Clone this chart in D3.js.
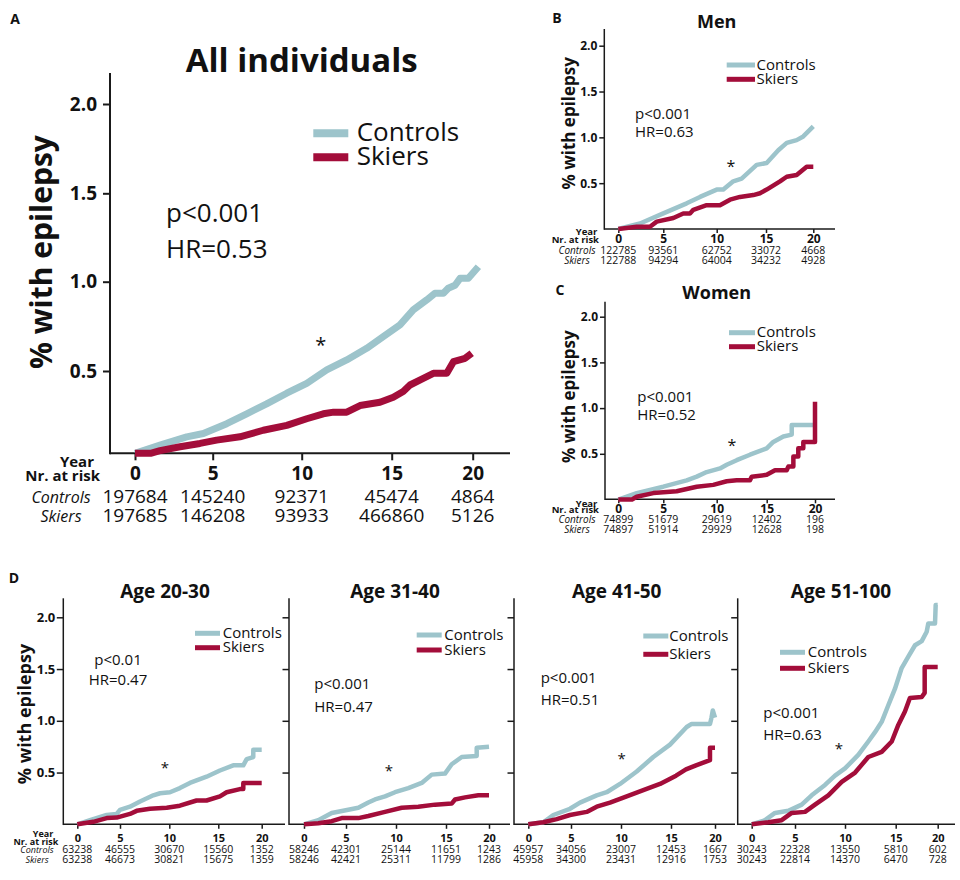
<!DOCTYPE html>
<html><head><meta charset="utf-8">
<script src="https://cdn.jsdelivr.net/npm/d3@7"></script>
<style>body{margin:0;background:#fff}svg{display:block}</style>
</head><body><svg id="c" width="960" height="880"></svg>
<script>
// ---------------- DATA ----------------
const years = [0, 5, 10, 15, 20];
const yTicks = [0.5, 1.0, 1.5, 2.0];
const seriesNames = ["Controls", "Skiers"];

// A: All individuals  [year, % with epilepsy]
const allControls = [[0,0],[1.61,0.05],[3.33,0.10],[4.4,0.12],[5.79,0.18],[6.91,0.24],[8.03,0.30],[9.16,0.365],[10.28,0.425],[11.39,0.506],[12.5,0.562],[13.61,0.627],[14.53,0.692],[15.51,0.758],[16.33,0.842],[17.16,0.898],[17.67,0.935],[18.19,0.935],[18.49,0.963],[18.91,0.98],[19.22,1.019],[19.73,1.019],[20.35,1.085]];
const allSkiers = [[0,0],[1.0,0],[1.61,0.016],[2.9,0.04],[4.18,0.06],[5.22,0.08],[6.53,0.10],[7.84,0.14],[9.16,0.17],[10.28,0.21],[11.2,0.24],[11.77,0.25],[12.5,0.25],[13.24,0.29],[14.35,0.31],[15.1,0.34],[15.71,0.375],[16.13,0.415],[16.95,0.455],[17.57,0.486],[18.4,0.486],[18.81,0.552],[19.53,0.571],[19.94,0.6]];
const allRiskControls = [197684, 145240, 92371, 45474, 4864];
const allRiskSkiers = [197685, 146208, 93933, 466860, 5126];

// B: Men
const menControls = [[0,0],[2.41,0.06],[5,0.17],[7.19,0.28],[8.44,0.35],[10,0.43],[10.67,0.43],[11.68,0.52],[12.53,0.55],[14.05,0.70],[15.07,0.72],[16.3,0.86],[17.19,0.94],[18.24,0.97],[18.94,1.01],[20,1.12]];
const menSkiers = [[0,0],[2.04,0.025],[3.52,0.025],[4.27,0.08],[5.94,0.12],[6.87,0.17],[7.5,0.17],[7.81,0.21],[9.06,0.26],[10.33,0.26],[11.35,0.32],[12.36,0.35],[13.71,0.37],[14.39,0.39],[15.07,0.43],[16.48,0.52],[17.19,0.57],[18.24,0.59],[19.3,0.68],[20,0.68]];
const menRiskControls = [122785, 93561, 62752, 33072, 4668];
const menRiskSkiers = [122788, 94294, 64004, 34232, 4928];

// C: Women
const womenControls = [[0,0],[2.04,0.07],[5,0.14],[7.19,0.21],[8.13,0.25],[9.06,0.30],[10.33,0.34],[11,0.38],[12,0.43],[13.33,0.49],[15,0.56],[15.68,0.63],[16.72,0.69],[17.59,0.71],[17.59,0.815],[19.83,0.815]];
const womenSkiers = [[0,0],[1.52,0],[2.04,0.03],[3.89,0.07],[6.25,0.09],[8.13,0.14],[9.68,0.16],[11.0,0.20],[12.0,0.21],[13.33,0.21],[13.5,0.25],[15,0.27],[15.86,0.32],[17.07,0.32],[17.24,0.36],[17.76,0.36],[17.76,0.47],[18.27,0.47],[18.27,0.56],[18.79,0.56],[18.79,0.63],[20,0.63],[20,1.07]];
const womenRiskControls = [74899, 51679, 29619, 12402, 196];
const womenRiskSkiers = [74897, 51914, 29929, 12628, 198];

// D: Age groups
const age1Controls = [[0,0],[1.49,0.04],[3.44,0.09],[4.61,0.10],[5,0.14],[6.01,0.17],[7.03,0.22],[8.38,0.28],[9.06,0.30],[10.07,0.31],[11.08,0.35],[12.1,0.40],[13.8,0.46],[15.19,0.52],[16.72,0.57],[17.88,0.57],[18.27,0.63],[19.03,0.65],[19.03,0.72],[20,0.72]];
const age1Skiers = [[0,0],[1.87,0.024],[3.44,0.06],[4.61,0.065],[6.01,0.10],[6.69,0.13],[8.04,0.15],[9.74,0.16],[11.08,0.18],[12.78,0.23],[13.8,0.23],[15.19,0.27],[15.96,0.31],[17.49,0.34],[17.88,0.34],[17.88,0.40],[20,0.40]];
const age1RiskControls = [63238, 46555, 30670, 15560, 1352];
const age1RiskSkiers = [63238, 46673, 30821, 15675, 1359];

const age2Controls = [[0,0],[1.7,0.04],[3.3,0.11],[5.23,0.14],[6.23,0.16],[7.23,0.21],[7.9,0.24],[8.9,0.27],[9.9,0.31],[11.23,0.35],[12.57,0.40],[13.57,0.48],[14.9,0.49],[15.66,0.58],[16.83,0.65],[18.57,0.66],[18.57,0.74],[20,0.75]];
const age2Skiers = [[0,0],[1.7,0.01],[3.3,0.03],[4.49,0.06],[6.23,0.06],[7.23,0.08],[8.9,0.12],[10.57,0.16],[12.23,0.17],[13.9,0.19],[15.66,0.20],[16.05,0.24],[17.21,0.26],[18.76,0.28],[20,0.28]];
const age2RiskControls = [58246, 42301, 25144, 11651, 1243];
const age2RiskSkiers = [58246, 42421, 25311, 11799, 1286];

const age3Controls = [[0,0],[1.76,0.02],[2.93,0.09],[4.88,0.15],[5.9,0.21],[7.57,0.28],[8.57,0.31],[9.9,0.39],[11.57,0.51],[13.23,0.65],[14.9,0.77],[16.78,0.94],[17.35,0.97],[19.43,0.97],[19.6,1.03],[19.75,1.10],[20,1.03]];
const age3Skiers = [[0,0],[1.76,0.02],[3.33,0.05],[4.88,0.09],[6.57,0.12],[7.57,0.17],[8.9,0.21],[10.57,0.27],[12.23,0.33],[13.9,0.39],[15.57,0.47],[16.7,0.53],[17.84,0.57],[19.43,0.62],[19.43,0.74],[20,0.74]];
const age3RiskControls = [45957, 34056, 23007, 12453, 1667];
const age3RiskSkiers = [45958, 34300, 23431, 12916, 1753];

const age4Controls = [[0,0],[1.54,0.04],[2.69,0.11],[4.23,0.13],[5.67,0.19],[6.67,0.28],[8.0,0.38],[9.0,0.47],[10,0.54],[11.31,0.67],[12.3,0.80],[12.96,0.89],[13.62,0.99],[14.27,1.15],[14.93,1.31],[15.71,1.51],[16.5,1.62],[17.3,1.73],[18.1,1.77],[18.69,1.86],[18.88,1.94],[19.68,1.94],[19.76,2.12],[20,2.12]];
const age4Skiers = [[0,0],[1.92,0.02],[3.46,0.04],[4.62,0.11],[6.0,0.12],[7.0,0.19],[8.33,0.28],[9.67,0.41],[11.0,0.50],[12.3,0.65],[13.62,0.70],[14.61,0.80],[15.31,0.96],[16.1,1.09],[16.69,1.22],[18.1,1.23],[18.45,1.27],[18.45,1.52],[20,1.52]];
const age4RiskControls = [30243, 22328, 13550, 5810, 602];
const age4RiskSkiers = [30243, 22814, 14370, 6470, 728];

// ---------------- STYLE / LAYOUT ----------------
const FONT = "'Open Sans','Noto Sans',sans-serif";
const ctrlColor = "#9dc4cb", skiColor = "#a30d3a", axisColor = "#1a1a1a";

const panels = [
 {title:"All individuals", c:allControls, s:allSkiers, rc:allRiskControls, rs:allRiskSkiers, p:"p<0.001", hr:"HR=0.53",
  L:{axisX:110, axisY:453.3, top:73, xEnd:510, aw:2, xr:[135,212.7,301.7,391.7,472.7], yd:[0,0.5,1,1.5,2], yr:[453.3,371,281.7,193.3,104],
     yLabels:true, yTick:7, yPad:6, yFont:19, xTick:7, xLabY:480.5, xFont:19, lw:7,
     titleP:{x:301.7,y:72,size:33}, ylab:{x:52,y:252,size:30}, letter:{t:"A",x:15,y:24,size:14},
     leg:{x1:313.3,x2:348.3,y1:133.3,y2:157.3,tx:356.7,size:26,lw:8},
     stats:{x:166,y1:221.7,y2:258.3,size:26,anchor:"start"}, star:{x:320.7,y:340.7,size:20},
     rows:{labels:true, yearY:467, nrY:480.5, yearR:94, nrR:100, lblSize:15, cY:503, sY:522, lblX:61, itSize:16, numSize:19}}},
 {title:"Men", c:menControls, s:menSkiers, rc:menRiskControls, rs:menRiskSkiers, p:"p<0.001", hr:"HR=0.63",
  L:{axisX:604.3, axisY:229, top:29, xEnd:835, aw:1.5, xr:[618.3,663.3,716.7,766,813.3], yd:[0,2], yr:[229,45.7],
     yLabels:true, yTick:5, yPad:2, yFont:12, xTick:4, xLabY:242.7, xFont:12, lw:4.5,
     titleP:{x:716.7,y:28,size:18}, ylab:{x:575,y:123.3,size:17}, letter:{t:"B",x:557,y:23.3,size:14},
     leg:{x1:726.7,x2:755,y1:65,y2:79.3,tx:756.5,size:15,lw:5},
     stats:{x:635,y1:119.3,y2:137.3,size:15,anchor:"start"}, star:{x:731,y:163,size:16},
     rows:{labels:true, yearY:235, nrY:242.7, yearR:597.3, nrR:599, lblSize:9.5, cY:254, sY:263.5, lblX:577, itSize:10, numSize:10.5}}},
 {title:"Women", c:womenControls, s:womenSkiers, rc:womenRiskControls, rs:womenRiskSkiers, p:"p<0.001", hr:"HR=0.52",
  L:{axisX:605, axisY:499.3, top:301.7, xEnd:835, aw:1.5, xr:[618.3,663.3,716.7,766.7,815], yd:[0,2], yr:[499.5,316.7],
     yLabels:true, yTick:5, yPad:2, yFont:12, xTick:4, xLabY:513.3, xFont:12, lw:4.5,
     titleP:{x:716.7,y:299.3,size:18}, ylab:{x:575,y:396.7,size:17}, letter:{t:"C",x:560,y:295,size:14},
     leg:{x1:729,x2:755,y1:332.7,y2:346.7,tx:756.7,size:15,lw:5},
     stats:{x:637.3,y1:401.7,y2:420,size:15,anchor:"start"}, star:{x:732,y:441.7,size:16},
     rows:{labels:true, yearY:506.7, nrY:513.3, yearR:597.3, nrR:599, lblSize:9.5, cY:523.3, sY:533.3, lblX:577, itSize:10, numSize:10.5}}},
 {title:"Age 20-30", c:age1Controls, s:age1Skiers, rc:age1RiskControls, rs:age1RiskSkiers, p:"p<0.01", hr:"HR=0.47",
  L:{axisX:63.3, axisY:824.3, top:598.3, xEnd:285, aw:1.5, xr:[77.3,120,169.3,218.3,261.7], yd:[0,2], yr:[824.3,617.3],
     yLabels:true, yTick:6.5, yPad:1.5, yFont:13, xTick:4.5, xLabY:842.3, xFont:11, lw:4.5,
     titleP:{x:165,y:598,size:19}, ylab:{x:31,y:714,size:18}, letter:{t:"D",x:14,y:583.3,size:14},
     leg:{x1:195,x2:220,y1:633.3,y2:647.7,tx:222.7,size:15,lw:5},
     stats:{x:118,y1:665,y2:685,size:15,anchor:"middle"}, star:{x:165,y:764,size:15},
     rows:{labels:true, yearY:836.7, nrY:845, yearR:53.3, nrR:58.3, lblSize:9, cY:853.3, sY:863.3, lblX:37, itSize:9, numSize:10.5}}},
 {title:"Age 31-40", c:age2Controls, s:age2Skiers, rc:age2RiskControls, rs:age2RiskSkiers, p:"p<0.001", hr:"HR=0.47",
  L:{axisX:289, axisY:824.3, top:598.3, xEnd:510, aw:1.5, xr:[304,346,396,446,489], yd:[0,2], yr:[824.3,617.3],
     yLabels:false, yTick:6.5, yPad:1.5, yFont:13, xTick:4.5, xLabY:842.3, xFont:11, lw:4.5,
     titleP:{x:395,y:598,size:19}, ylab:null, letter:null,
     leg:{x1:416.7,x2:441.7,y1:635,y2:650,tx:444.3,size:15,lw:5},
     stats:{x:314.3,y1:689,y2:711.7,size:15,anchor:"start"}, star:{x:389,y:767.7,size:15},
     rows:{labels:false, cY:853.3, sY:863.3, numSize:10.5}}},
 {title:"Age 41-50", c:age3Controls, s:age3Skiers, rc:age3RiskControls, rs:age3RiskSkiers, p:"p<0.001", hr:"HR=0.51",
  L:{axisX:514, axisY:824.3, top:598.3, xEnd:735, aw:1.5, xr:[528.3,571,621,671,715], yd:[0,2], yr:[824.3,617.3],
     yLabels:false, yTick:6.5, yPad:1.5, yFont:13, xTick:4.5, xLabY:842.3, xFont:11, lw:4.5,
     titleP:{x:616.7,y:598,size:19}, ylab:null, letter:null,
     leg:{x1:643.3,x2:668.3,y1:636,y2:654.3,tx:669.3,size:15,lw:5},
     stats:{x:540.7,y1:683.3,y2:705,size:15,anchor:"start"}, star:{x:621.7,y:755,size:15},
     rows:{labels:false, cY:853.3, sY:863.3, numSize:10.5}}},
 {title:"Age 51-100", c:age4Controls, s:age4Skiers, rc:age4RiskControls, rs:age4RiskSkiers, p:"p<0.001", hr:"HR=0.63",
  L:{axisX:737.7, axisY:824.3, top:598.3, xEnd:955, aw:1.5, xr:[751.7,795,845,895.7,937.7], yd:[0,2], yr:[824.3,617.3],
     yLabels:false, yTick:6.5, yPad:1.5, yFont:13, xTick:4.5, xLabY:842.3, xFont:11, lw:4.5,
     titleP:{x:841,y:598,size:19}, ylab:null, letter:null,
     leg:{x1:780,x2:805,y1:652.3,y2:668.3,tx:807.7,size:15,lw:5},
     stats:{x:763.3,y1:718.3,y2:740,size:15,anchor:"start"}, star:{x:839,y:745,size:15},
     rows:{labels:false, cY:853.3, sY:863.3, numSize:10.5}}}
];

// ---------------- DRAW ----------------
const svg = d3.select("#c").attr("font-family", FONT);

function txt(g, s, x, y, size, opts = {}) {
  return g.append("text").attr("x", x).attr("y", y).attr("font-size", size)
    .attr("font-weight", opts.bold ? "bold" : "normal")
    .attr("font-style", opts.italic ? "italic" : "normal")
    .attr("text-anchor", opts.anchor || "start").attr("fill", "#111").text(s);
}

function drawPanel(P) {
  const L = P.L;
  const g = svg.append("g");
  const x = d3.scaleLinear().domain(years).range(L.xr);
  const y = d3.scaleLinear().domain(L.yd).range(L.yr);

  // axis lines
  g.append("line").attr("x1", L.axisX).attr("x2", L.axisX).attr("y1", L.top).attr("y2", L.axisY + L.aw / 2)
    .attr("stroke", axisColor).attr("stroke-width", L.aw);
  g.append("line").attr("x1", L.axisX).attr("x2", L.xEnd).attr("y1", L.axisY).attr("y2", L.axisY)
    .attr("stroke", axisColor).attr("stroke-width", L.aw);

  // y axis ticks
  const ya = d3.axisLeft(y).tickValues(yTicks).tickSize(L.yTick).tickPadding(L.yPad)
    .tickFormat(L.yLabels ? d3.format(".1f") : () => "");
  const yg = g.append("g").attr("transform", `translate(${L.axisX},0)`).call(ya).attr("font-family", FONT);
  yg.select(".domain").remove();
  yg.selectAll(".tick line").attr("stroke", axisColor).attr("stroke-width", L.aw);
  yg.selectAll(".tick text").attr("font-size", L.yFont).attr("font-weight", "bold").attr("fill", "#111");

  // x axis ticks
  const xa = d3.axisBottom(x).tickValues(years).tickSize(L.xTick).tickFormat(d3.format("d"));
  const xg = g.append("g").attr("transform", `translate(0,${L.axisY})`).call(xa).attr("font-family", FONT);
  xg.select(".domain").remove();
  xg.selectAll(".tick line").attr("stroke", axisColor).attr("stroke-width", L.aw);
  xg.selectAll(".tick text").attr("y", L.xLabY - L.axisY).attr("dy", 0)
    .attr("font-size", L.xFont).attr("font-weight", "bold").attr("fill", "#111");

  // curves
  const line = d3.line().x(d => x(d[0])).y(d => y(d[1]));
  [[P.c, ctrlColor], [P.s, skiColor]].forEach(([data, col]) => {
    g.append("path").datum(data).attr("d", line).attr("fill", "none")
      .attr("stroke", col).attr("stroke-width", L.lw).attr("stroke-linejoin", "round");
  });

  // title
  txt(g, P.title, L.titleP.x, L.titleP.y, L.titleP.size, {bold: true, anchor: "middle"});
  if (L.letter) txt(g, L.letter.t, L.letter.x, L.letter.y, L.letter.size, {bold: true, anchor: "middle"});
  if (L.ylab) {
    txt(g, "% with epilepsy", 0, 0, L.ylab.size, {bold: true, anchor: "middle"})
      .attr("x", null).attr("y", null)
      .attr("transform", `translate(${L.ylab.x},${L.ylab.y}) rotate(-90)`);
  }

  // legend
  const lg = L.leg;
  [[lg.y1, ctrlColor, seriesNames[0]], [lg.y2, skiColor, seriesNames[1]]].forEach(([ly, col, name]) => {
    g.append("line").attr("x1", lg.x1).attr("x2", lg.x2).attr("y1", ly).attr("y2", ly)
      .attr("stroke", col).attr("stroke-width", lg.lw);
    txt(g, name, lg.tx, ly + lg.size * 0.3, lg.size);
  });

  // stats
  txt(g, P.p, L.stats.x, L.stats.y1, L.stats.size, {anchor: L.stats.anchor});
  txt(g, P.hr, L.stats.x, L.stats.y2, L.stats.size, {anchor: L.stats.anchor});

  // asterisk
  txt(g, "*", L.star.x, L.star.y + L.star.size * 0.58, L.star.size, {anchor: "middle"});

  // number at risk
  const R = L.rows;
  if (R.labels) {
    txt(g, "Year", R.yearR, R.yearY, R.lblSize, {bold: true, anchor: "end"});
    txt(g, "Nr. at risk", R.nrR, R.nrY, R.lblSize, {bold: true, anchor: "end"});
    txt(g, seriesNames[0], R.lblX, R.cY, R.itSize, {italic: true, anchor: "middle"});
    txt(g, seriesNames[1], R.lblX, R.sY, R.itSize, {italic: true, anchor: "middle"});
  }
  [[P.rc, R.cY], [P.rs, R.sY]].forEach(([arr, ry]) => {
    g.append("g").selectAll("text").data(arr).join("text")
      .attr("x", (d, i) => x(years[i])).attr("y", ry)
      .attr("font-size", R.numSize).attr("text-anchor", "middle").attr("fill", "#111")
      .text(d => d);
  });
}

panels.forEach(drawPanel);
</script>
</body></html>
